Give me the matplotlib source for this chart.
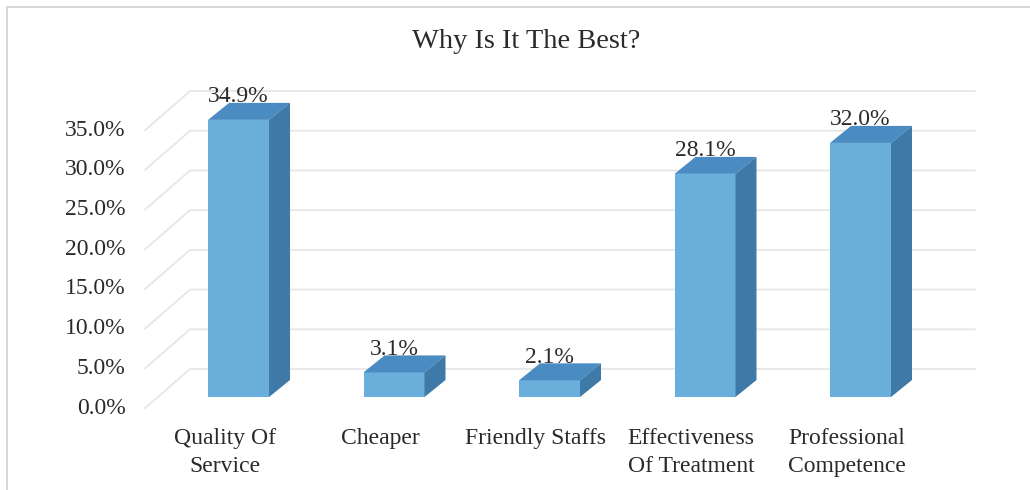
import numpy as np
import matplotlib.pyplot as plt
from matplotlib.patches import Polygon, Rectangle

# survey answers
categories = ['Quality Of\nService', 'Cheaper', 'Friendly Staffs',
              'Effectiveness\nOf Treatment', 'Professional\nCompetence']
values = [34.9, 3.1, 2.1, 28.1, 32.0]
ticks = [0, 5, 10, 15, 20, 25, 30, 35]

plt.rcParams['font.family'] = ['Liberation Serif', 'DejaVu Serif']

front_col = '#6aafdc'
top_col = '#4a8bc2'
side_col = '#3e79a8'
grid_col = '#e6e6e6'
text_col = '#2a2a2a'

fig = plt.figure(figsize=(10.3, 4.9), dpi=100)
ax = fig.add_axes([100 / 1030, 10 / 490, 900 / 1030, 440 / 490])
ax.set_xlim(-0.891, 4.897)
ax.set_ylim(-10.45, 44.96)
ax.axis('off')

x = np.arange(len(categories))
width = 0.392
# fake 3d: box depth, plus where the front edge and back wall sit
bdx, bdy = 0.135, 2.14
front_x, front_dy = -0.601, -1.39
wall_x, wall_dy = -0.312, 3.53
wall_end = 4.736

# gridlines: diagonal on the side wall, flat on the back wall
for t in ticks:
    ax.plot([front_x, wall_x, wall_end], [t + front_dy, t + wall_dy, t + wall_dy],
            color=grid_col, lw=1.3, zorder=0)
    ax.text(front_x - 0.125, t + front_dy, f'{t:.1f}%', ha='right', va='center',
            fontsize=17, color=text_col)

# front faces
ax.bar(x, values, width, color=front_col, zorder=2)

# tops and sides
for xi, v in zip(x, values):
    xl, xr = xi - width / 2, xi + width / 2
    top = Polygon([(xl, v), (xr, v), (xr + bdx, v + bdy), (xl + bdx, v + bdy)],
                  closed=True, fc=top_col, ec='none', zorder=3)
    side = Polygon([(xr, 0), (xr + bdx, bdy), (xr + bdx, v + bdy), (xr, v)],
                   closed=True, fc=side_col, ec='none', zorder=3)
    ax.add_patch(top)
    ax.add_patch(side)
    ax.text(xi, v + bdy + 0.76, f'{v:.1f}%', ha='center', va='center',
            fontsize=17, color=text_col, zorder=4)

for xi, c in zip(x, categories):
    ax.text(xi - 0.088, -3.95, c, ha='center', va='top', fontsize=17,
            linespacing=1.4, color=text_col)

fig.text(526 / 1030, 1 - 42 / 490, 'Why Is It The Best?', ha='center', va='center',
         fontsize=20.5, color=text_col)

# chart frame
fig.add_artist(Rectangle((7 / 1030, -0.1), 1.1, (490 - 7.5) / 490 + 0.1,
                         transform=fig.transFigure, fill=False, ec='#d4d4d4', lw=1.3))

fig.savefig('out.png', dpi=100)
